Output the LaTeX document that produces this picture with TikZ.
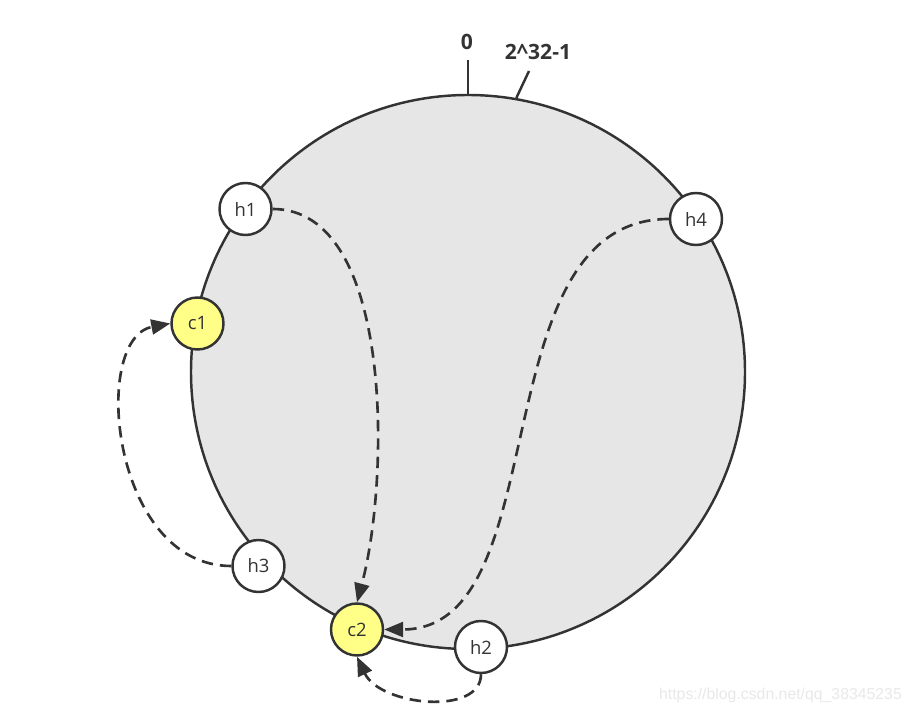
\documentclass[tikz,border=0pt]{standalone}
\usepackage{fontspec}
\setmainfont{Open Sans}
\newfontfamily\wmfont{Liberation Sans}
\usepackage{xcolor}
\usepackage{tikz}
\usetikzlibrary{arrows.meta,calc,positioning}

\definecolor{ringgray}{HTML}{E6E6E6}
\definecolor{hashyellow}{HTML}{FFFF88}
\definecolor{linegray}{HTML}{333333}
\definecolor{wmgray}{HTML}{E8E8E8}

\begin{document}
\begin{tikzpicture}[
  font=\fontsize{10.5}{12}\selectfont,
  ring/.style={circle, draw=linegray, fill=ringgray, line width=1.4pt, minimum size=11.08cm, inner sep=0pt},
  hash/.style={circle, draw=linegray, fill=#1, line width=1.4pt, minimum size=1.04cm, inner sep=0pt, text=linegray},
  arrow/.style={-{Triangle[length=0.38cm, width=0.3cm]}, dash pattern=on 6.5pt off 4pt, line width=1.5pt, draw=linegray},
  tick/.style={line width=1.4pt, draw=linegray},
  ticklabel/.style={font=\fontsize{12}{14}\selectfont\bfseries, text=linegray},
  watermark/.style={font=\wmfont\fontsize{9}{11}\selectfont, text=wmgray},
]
\useasboundingbox (0,0) rectangle (18.24,14.28);

%% ---- Hash ring ----
\node[ring] (ring) at (9.36,6.84) {};

%% ---- Ring start / end ticks ----
\draw[tick] (ring.north) -- ++(0,0.68) coordinate (t0);
\node[ticklabel] (zero) at (9.34,13.44) {0};
\coordinate (tmax) at (10.58,12.86);
\draw[tick] (ring.80.6) -- (tmax);
\node[ticklabel] (max) at (10.76,13.24) {2\textasciicircum 32-1};

%% ---- Hashed keys (white) and servers (yellow) ----
\node[hash=white]      (h1) at (4.91,10.10) {h1};
\node[hash=hashyellow] (c1) at (3.95,7.81)  {c1};
\node[hash=white]      (h3) at (5.17,2.96)  {h3};
\node[hash=hashyellow] (c2) at (7.14,1.69)  {c2};
\node[hash=white]      (h2) at (9.62,1.34)  {h2};
\node[hash=white]      (h4) at (13.92,9.90) {h4};

%% ---- Clockwise lookup ----
\draw[arrow] (h1.east) .. controls +(2.42,0) and +(0.66,2.46) .. (c2.north);
\draw[arrow] (h4.west) .. controls +(-3.8,0) and +(3.5,0) .. (c2.east);
\draw[arrow] (h3.west) .. controls +(-2.4,0) and +(-1.6,-0.3) .. (c1.west);
\draw[arrow] (h2.south) .. controls +(0,-0.84) and +(0.46,-0.98) .. (c2.south);

%% ---- Watermark ----
\node[watermark] (wm) at (15.61,0.38) {https://blog.csdn.net/qq\_38345235};

\end{tikzpicture}
\end{document}
